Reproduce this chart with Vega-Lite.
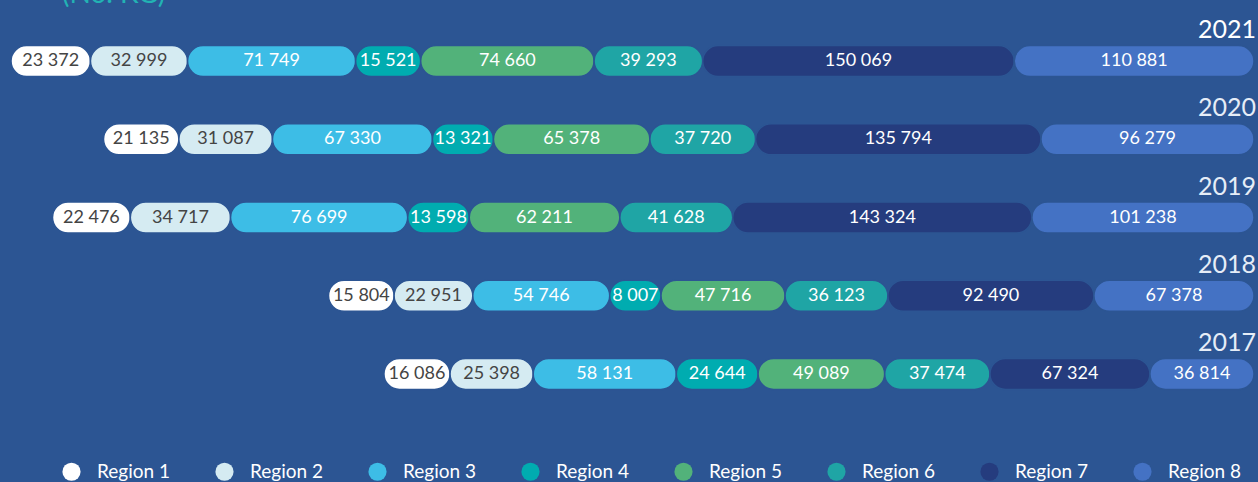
{
  "$schema": "https://vega.github.io/schema/vega-lite/v6.json",
  "width": 1258,
  "height": 482,
  "autosize": "none",
  "padding": 0,
  "background": "#2c5593",
  "title": {"text": "(No. KG)", "anchor": "start", "frame": "group", "dx": 62, "offset": -9, "fontSize": 28, "font": "Lato", "fontWeight": "normal", "color": "#22b3b3"},
  "config": {
    "view": {"stroke": null},
    "locale": {"number": {"decimal": ".", "thousands": " ", "grouping": [3], "currency": ["", ""]}},
    "legend": {"orient": "none", "legendX": 62, "legendY": 462, "direction": "horizontal", "columns": 8, "symbolType": "circle", "symbolSize": 330, "symbolStrokeWidth": 0, "symbolOpacity": 1, "labelFontSize": 19, "labelColor": "#ffffff", "labelFont": "Lato", "labelOffset": 16, "columnPadding": 44, "titleFontSize": 0}
  },
  "data": {"values": [
    {"year": "2021", "region": "Region 1", "value": 23372},
    {"year": "2021", "region": "Region 2", "value": 32999},
    {"year": "2021", "region": "Region 3", "value": 71749},
    {"year": "2021", "region": "Region 4", "value": 15521},
    {"year": "2021", "region": "Region 5", "value": 74660},
    {"year": "2021", "region": "Region 6", "value": 39293},
    {"year": "2021", "region": "Region 7", "value": 150069},
    {"year": "2021", "region": "Region 8", "value": 110881},
    {"year": "2020", "region": "Region 1", "value": 21135},
    {"year": "2020", "region": "Region 2", "value": 31087},
    {"year": "2020", "region": "Region 3", "value": 67330},
    {"year": "2020", "region": "Region 4", "value": 13321},
    {"year": "2020", "region": "Region 5", "value": 65378},
    {"year": "2020", "region": "Region 6", "value": 37720},
    {"year": "2020", "region": "Region 7", "value": 135794},
    {"year": "2020", "region": "Region 8", "value": 96279},
    {"year": "2019", "region": "Region 1", "value": 22476},
    {"year": "2019", "region": "Region 2", "value": 34717},
    {"year": "2019", "region": "Region 3", "value": 76699},
    {"year": "2019", "region": "Region 4", "value": 13598},
    {"year": "2019", "region": "Region 5", "value": 62211},
    {"year": "2019", "region": "Region 6", "value": 41628},
    {"year": "2019", "region": "Region 7", "value": 143324},
    {"year": "2019", "region": "Region 8", "value": 101238},
    {"year": "2018", "region": "Region 1", "value": 15804},
    {"year": "2018", "region": "Region 2", "value": 22951},
    {"year": "2018", "region": "Region 3", "value": 54746},
    {"year": "2018", "region": "Region 4", "value": 8007},
    {"year": "2018", "region": "Region 5", "value": 47716},
    {"year": "2018", "region": "Region 6", "value": 36123},
    {"year": "2018", "region": "Region 7", "value": 92490},
    {"year": "2018", "region": "Region 8", "value": 67378},
    {"year": "2017", "region": "Region 1", "value": 16086},
    {"year": "2017", "region": "Region 2", "value": 25398},
    {"year": "2017", "region": "Region 3", "value": 58131},
    {"year": "2017", "region": "Region 4", "value": 24644},
    {"year": "2017", "region": "Region 5", "value": 49089},
    {"year": "2017", "region": "Region 6", "value": 37474},
    {"year": "2017", "region": "Region 7", "value": 67324},
    {"year": "2017", "region": "Region 8", "value": 36814}
  ]},
  "transform": [
    {"calculate": "datum.value + 20000", "as": "pill"},
    {"stack": "pill", "groupby": ["year"], "sort": [{"field": "region", "order": "descending"}], "as": ["v0", "v1"]},
    {"calculate": "(datum.v0 + datum.v1) / 2", "as": "mid"}
  ],
  "encoding": {
    "y": {"field": "year", "type": "ordinal", "axis": null, "sort": ["2021", "2020", "2019", "2018", "2017"], "scale": {"range": [22, 413], "paddingInner": 0, "paddingOuter": 0}}
  },
  "layer": [
    {
      "mark": {"type": "bar", "height": 31, "cornerRadius": 15.5, "stroke": "#2c5593", "strokeWidth": 1.5},
      "encoding": {
        "x": {"field": "v0", "type": "quantitative", "axis": null, "scale": {"domain": [0, 678544], "range": [1254, 11], "nice": false, "zero": false}},
        "x2": {"field": "v1"},
        "color": {"field": "region", "type": "nominal", "title": null,
          "scale": {"domain": ["Region 1", "Region 2", "Region 3", "Region 4", "Region 5", "Region 6", "Region 7", "Region 8"],
                    "range": ["#ffffff", "#d5ebf2", "#3dbde6", "#00acb0", "#52b27a", "#1fa5a5", "#253c7e", "#4472c4"]}},
        "tooltip": [{"field": "year"}, {"field": "region"}, {"field": "value", "type": "quantitative", "format": ",d"}]
      }
    },
    {
      "mark": {"type": "text", "font": "Lato", "fontSize": 18, "align": "center", "baseline": "middle"},
      "encoding": {
        "x": {"field": "mid", "type": "quantitative"},
        "text": {"field": "value", "type": "quantitative", "format": ",d"},
        "color": {"condition": {"test": "datum.region === 'Region 1' || datum.region === 'Region 2'", "value": "#444444"}, "value": "#ffffff"}
      }
    },
    {
      "transform": [{"filter": "datum.region === 'Region 8'"}],
      "mark": {"type": "text", "font": "Lato", "fontSize": 25, "align": "right", "baseline": "middle", "dy": -31, "dx": 2},
      "encoding": {
        "x": {"datum": 0, "type": "quantitative"},
        "text": {"field": "year"},
        "color": {"condition": {"test": "datum.year === '2021'", "value": "#ffffff"}, "value": "#e6edf7"},
        "fontWeight": {"condition": {"test": "datum.year === '2021'", "value": "bold"}, "value": "normal"}
      }
    }
  ]
}
